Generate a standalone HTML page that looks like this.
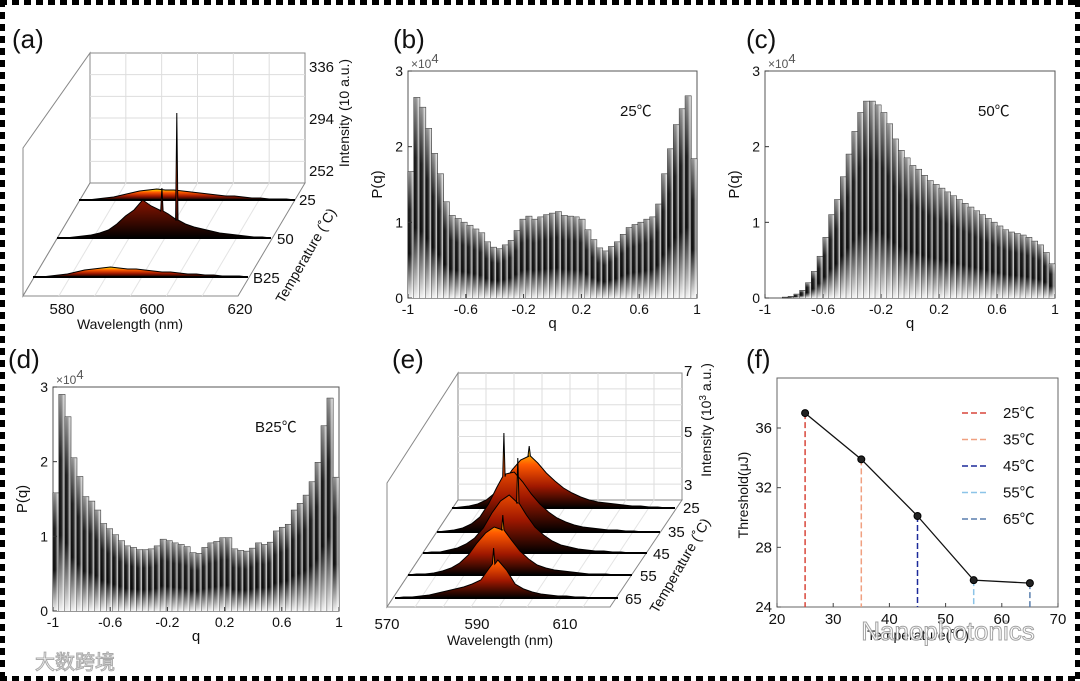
<!DOCTYPE html>
<html><head><meta charset="utf-8">
<style>
html,body{margin:0;padding:0;background:#fff;}
svg{display:block;font-family:"Liberation Sans","Noto Sans CJK SC",sans-serif;}
</style></head>
<body>
<svg id="fig" width="1080" height="681" viewBox="0 0 1080 681">
<defs>
 <linearGradient id="barH" x1="0" y1="0" x2="1" y2="0">
  <stop offset="0" stop-color="#000"/><stop offset="0.45" stop-color="#222"/><stop offset="1" stop-color="#fff"/>
 </linearGradient>
 <linearGradient id="barV" x1="0" y1="0" x2="0" y2="1">
  <stop offset="0" stop-color="#fff" stop-opacity="0.55"/><stop offset="0.3" stop-color="#fff" stop-opacity="0.05"/><stop offset="0.65" stop-color="#fff" stop-opacity="0"/><stop offset="1" stop-color="#fff" stop-opacity="0.95"/>
 </linearGradient>
 <linearGradient id="heat" x1="0" y1="0" x2="0" y2="1">
  <stop offset="0" stop-color="#fff200"/><stop offset="0.3" stop-color="#ff5a00"/><stop offset="0.65" stop-color="#a01800"/><stop offset="1" stop-color="#000"/>
 </linearGradient>
</defs>
<g id="border"></g>
<g id="root"></g>
</svg>
<script>
// ---------- data ----------
const histB = [1.67,2.65,2.52,2.24,1.91,1.64,1.27,1.09,1.05,1.0,0.96,0.91,0.86,0.74,0.67,0.65,0.70,0.76,0.89,1.04,1.08,1.04,1.07,1.10,1.12,1.14,1.09,1.08,1.07,1.04,0.90,0.77,0.66,0.62,0.68,0.74,0.84,0.93,0.97,1.00,1.04,1.07,1.24,1.64,1.97,2.29,2.50,2.67,1.84];
const histC = [0,0,0,0.01,0.02,0.05,0.1,0.2,0.35,0.55,0.8,1.1,1.3,1.6,1.9,2.2,2.45,2.6,2.6,2.55,2.45,2.3,2.1,1.95,1.85,1.75,1.7,1.62,1.55,1.5,1.45,1.4,1.35,1.3,1.25,1.2,1.15,1.1,1.05,1.0,0.95,0.9,0.87,0.85,0.83,0.8,0.75,0.7,0.6,0.45];
const histD = [1.58,2.9,2.6,2.05,1.8,1.53,1.47,1.35,1.17,1.1,1.02,0.94,0.87,0.85,0.82,0.82,0.83,0.87,0.96,0.94,0.91,0.89,0.86,0.78,0.77,0.85,0.91,0.93,0.98,0.98,0.83,0.81,0.8,0.84,0.91,0.89,0.92,1.07,1.12,1.16,1.35,1.44,1.55,1.73,1.99,2.48,2.85,1.79];
const qTicks = [-1,-0.6,-0.2,0.2,0.6,1];
const pTicks = [0,1,2,3];

const specA25 = [0,0,1,2,3,5,7,9,10,11,10,10,9,8,7,6,5,4,4,3,2,2,1,1,1,0];
const specA50 = [0,0,1,2,3,5,8,14,22,28,38,32,28,24,18,14,11,9,7,5,4,3,2,1,1,0];
const specAB25 = [0,0,1,2,3,5,7,8,9,10,9,8,8,7,6,5,5,4,3,3,2,2,1,1,1,0];
const spikeA50Wl = [594.5,598];
const spikeA50H = [50,125];
const tempA = ["25","50","B25"];

const tempE = ["25","35","45","55","65"];
const specE = [
 [0,1,2,4,8,15,25,38,48,52,45,35,27,20,15,11,8,6,5,4,3,2,2,1,1,0,0],
 [0,1,2,4,8,15,28,45,58,60,50,38,28,20,14,10,7,5,4,3,2,2,1,1,0,0,0],
 [0,1,1,3,5,9,15,25,40,52,58,50,38,26,18,12,8,6,4,3,2,2,1,1,0,0,0],
 [0,1,1,2,4,7,12,20,32,42,48,45,35,24,16,10,7,5,4,3,2,1,1,1,0,0,0],
 [0,1,1,2,3,5,7,9,11,14,18,30,38,28,14,9,6,4,3,2,2,1,1,0,0,0,0]
];
const spikeEWl = [588,585.6,592,592,593];
const spikeEH = [62,99,95,60,50];

const thrTemps = [25,35,45,55,65];
const thrVals = [37.0,33.9,30.1,25.8,25.6];
const thrColors = ["#d9473b","#f0a080","#1c2a9a","#8cc4e8","#5a7fae"];
const thrXTicks = [20,30,40,50,60,70];
const thrYTicks = [24,28,32,36];

// ---------- helpers ----------
const NS="http://www.w3.org/2000/svg";
const root=document.getElementById('root');
function el(tag,attrs,parent){const e=document.createElementNS(NS,tag);for(const k in attrs)e.setAttribute(k,attrs[k]);(parent||root).appendChild(e);return e;}
function txt(s,x,y,size,parent,anchor,extra){const t=el('text',Object.assign({x:x,y:y,'font-size':size,'text-anchor':anchor||'middle',fill:'#111'},extra||{}),parent);t.textContent=s;return t;}

// border
const bd=document.getElementById('border');
for(let x=0;x<1080;x+=12){el('rect',{x:x,y:0,width:7,height:5,fill:'#000'},bd);el('rect',{x:x,y:676,width:7,height:5,fill:'#000'},bd);}
for(let y=0;y<681;y+=12){el('rect',{x:0,y:y,width:5,height:7,fill:'#000'},bd);el('rect',{x:1075,y:y,width:5,height:7,fill:'#000'},bd);}

// panel labels
[["(a)",12,48],["(b)",393,48],["(c)",746,48],["(d)",8,368],["(e)",392,368],["(f)",746,368]].forEach(p=>{
 const t=txt(p[0],p[1],p[2],26,root,'start');
 
 
});

// ---------- histogram ----------
function hist(name,vals,x0,x1,y0,y1,label,lx,ly){
 const g=el('g',{});
 
 
 const sx=q=>x0+(q+1)/2*(x1-x0);
 const sy=v=>y0-(v/3)*(y0-y1);
 el('rect',{x:x0,y:y1,width:x1-x0,height:y0-y1,fill:'#fff',stroke:'#555','stroke-width':1},g);
 const n=vals.length, w=2/n;
 vals.forEach((v,i)=>{
  const xa=sx(-1+i*w), xb=sx(-1+(i+1)*w);
  const r=el('rect',{x:xa,y:sy(v),width:xb-xa,height:y0-sy(v),fill:'url(#barH)',stroke:'#222','stroke-width':0.8},g);
  
  
  el('rect',{x:xa,y:sy(v),width:xb-xa,height:y0-sy(v),fill:'url(#barV)'},g);
 });
 qTicks.forEach(q=>{el('line',{x1:sx(q),x2:sx(q),y1:y0,y2:y0-4,stroke:'#333'},g);
  const t=txt(String(q),sx(q),y0+16,14,g);
  
  });
 pTicks.forEach(p=>{el('line',{x1:x0,x2:x0+4,y1:sy(p),y2:sy(p),stroke:'#333'},g);
  const t=txt(String(p),x0-5,sy(p)+5,14,g,'end');
  
  });
 const e=txt('×10',x0+3,y1-3,12,g,'start',{fill:'#555'});
 const s=el('tspan',{dy:-5,'font-size':13},e); s.textContent='4';
 
 
 const xl=txt('q',(x0+x1)/2,y0+30,15,g);
 
 
 const yl=txt('P(q)',0,0,15,g,'middle',{transform:`translate(${x0-26},${(y0+y1)/2}) rotate(-90)`});
 
 
 const an=txt(label,lx,ly,15,g,'start');
 
 
}
hist('histogram-25c',histB,408,697,298,71,'25℃',620,116);
hist('histogram-50c',histC,765,1055,298,71,'50℃',978,116);
hist('histogram-b25c',histD,53,339,611,387,'B25℃',255,432);

// ---------- 3D waterfall ----------
function wall(g,pts){el('polygon',{points:pts.map(p=>p.join(',')).join(' '),fill:'#fff',stroke:'#888','stroke-width':1},g);}
function spectrum(g,vals,xs,xe,yb,wl0,wl1,spW,spH,name){
 const n=vals.length;
 const sx=w=>xs+(w-wl0)/(wl1-wl0)*(xe-xs);
 let pts=[];
 for(let i=0;i<n;i++){const w=wl0+i*(wl1-wl0)/(n-1);pts.push([sx(w),yb-vals[i]]);}
 (spW||[]).forEach((w,k)=>{if(!spH[k])return;const x=sx(w);
  let j=pts.findIndex(p=>p[0]>x); if(j<1)return;
  const a=pts[j-1],b=pts[j]; const base=a[1]+(b[1]-a[1])*(x-a[0])/(b[0]-a[0]);
  pts.splice(j,0,[x-1.2,base],[x,yb-spH[k]],[x+1.2,base]);});
 const d='M'+xs+','+yb+' L'+pts.map(p=>p[0].toFixed(1)+','+p[1].toFixed(1)).join(' L')+' L'+xe+','+yb+' Z';
 const p=el('path',{d:d,fill:'url(#heat)',stroke:'#000','stroke-width':1},g);
 
 
 el('line',{x1:xs,x2:xe,y1:yb,y2:yb,stroke:'#000','stroke-width':2},g);
}

// panel (a)
(function(){
 const g=el('g',{});
 
 
 wall(g,[[23,148],[90,53],[90,183],[23,296]]);
 wall(g,[[90,53],[305,53],[305,183],[90,183]]);
 wall(g,[[90,183],[305,183],[238,296],[23,296]]);
 for(let i=1;i<6;i++){const x=90+i*215/6;el('line',{x1:x,x2:x,y1:53,y2:183,stroke:'#ddd'},g);el('line',{x1:x,x2:x-67,y1:183,y2:296,stroke:'#e4e4e4'},g);}
 for(let i=1;i<6;i++){const y=53+i*130/6;el('line',{x1:90,x2:305,y1:y,y2:y,stroke:'#ddd'},g);}
 const rows=[[specA25,79,295,200,null,null],[specA50,57,271,238,spikeA50Wl,spikeA50H],[specAB25,33,248,277,null,null]];
 rows.forEach((r,i)=>spectrum(g,r[0],r[1],r[2],r[3],570,620,r[4],r[5],'spectrum-'+tempA[i]));
 [[tempA[0],299,205],[tempA[1],277,244],[tempA[2],253,283]].forEach(t=>{const e=txt(t[0],t[1],t[2],15,g,'start');
  
  });
 [["580",62],["600",152],["620",240]].forEach(t=>{const e=txt(t[0],t[1],314,15,g);
  
  });
 [["336",72],["294",124],["252",176]].forEach(t=>{const e=txt(t[0],309,t[1],15,g,'start');
  
  });
 const wl=txt('Wavelength (nm)',130,329,14,g);
 
 
 const it=txt('Intensity (10 a.u.)',0,0,14,g,'middle',{transform:'translate(349,113) rotate(-90)'});
 
 
 const tt=txt('Temperature (˚C)',0,0,14,g,'middle',{transform:'translate(310,258) rotate(-60)'});
 
 
})();

// panel (e)
(function(){
 const g=el('g',{});
 
 
 wall(g,[[387,483],[458,373],[458,500],[387,607]]);
 wall(g,[[458,373],[682,373],[682,500],[458,500]]);
 wall(g,[[458,500],[682,500],[610,607],[387,607]]);
 for(let i=1;i<8;i++){const x=458+i*224/8;el('line',{x1:x,x2:x,y1:373,y2:500,stroke:'#ddd'},g);el('line',{x1:x,x2:x-71,y1:500,y2:607,stroke:'#e4e4e4'},g);}
 for(let i=1;i<8;i++){const y=373+i*127/8;el('line',{x1:458,x2:682,y1:y,y2:y,stroke:'#ddd'},g);}
 const base=[[452,675,508],[437,660,532],[423,647,553],[408,632,575],[395,618,598]];
 base.forEach((b,i)=>spectrum(g,specE[i],b[0],b[1],b[2],570,622,[spikeEWl[i]],[spikeEH[i]],'spectrum-'+tempE[i]));
 [[683,513],[668,537],[653,559],[640,581],[625,604]].forEach((p,i)=>{const e=txt(tempE[i],p[0],p[1],15,g,'start');
  
  });
 [["570",387],["590",477],["610",565]].forEach(t=>{const e=txt(t[0],t[1],629,15,g);
  
  });
 [["7",376],["5",437],["3",490]].forEach(t=>{const e=txt(t[0],684,t[1],15,g,'start');
  
  });
 const wl=txt('Wavelength (nm)',500,645,14,g);
 
 
 const it=el('text',{'font-size':14,'text-anchor':'middle',fill:'#111',transform:'translate(711,420) rotate(-90)'},g);
 it.innerHTML='Intensity (10<tspan dy="-5" font-size="10">3</tspan><tspan dy="5"> a.u.)</tspan>';
 
 
 const tt=txt('Temperature (˚C)',0,0,14,g,'middle',{transform:'translate(684,568) rotate(-60)'});
 
 
})();

// ---------- panel (f) line chart ----------
(function(){
 const g=el('g',{});
 
 
 const x0=777,x1=1058,yb=607,yt=378;
 const sx=t=>x0+(t-20)/50*(x1-x0);
 const sy=v=>607-(v-24)/12*(607-428);
 el('rect',{x:x0,y:yt,width:x1-x0,height:yb-yt,fill:'#fff',stroke:'#666','stroke-width':1},g);
 thrXTicks.forEach(t=>{el('line',{x1:sx(t),x2:sx(t),y1:yb,y2:yb-4,stroke:'#444'},g);
  const e=txt(String(t),sx(t),yb+17,15,g);
  
  });
 thrYTicks.forEach(v=>{el('line',{x1:x0,x2:x0+4,y1:sy(v),y2:sy(v),stroke:'#444'},g);
  const e=txt(String(v),x0-5,sy(v)+5,15,g,'end');
  
  });
 thrTemps.forEach((t,i)=>{const l=el('line',{x1:sx(t),x2:sx(t),y1:sy(thrVals[i]),y2:yb,stroke:thrColors[i],'stroke-width':1.5,'stroke-dasharray':'6,3'},g);
  
  });
 const pl=el('polyline',{points:thrTemps.map((t,i)=>sx(t)+','+sy(thrVals[i])).join(' '),fill:'none',stroke:'#111','stroke-width':1.3},g);
 
 
 thrTemps.forEach((t,i)=>{const c=el('circle',{cx:sx(t),cy:sy(thrVals[i]),r:3.5,fill:'#222',stroke:'#000'},g);
  
  });
 thrTemps.forEach((t,i)=>{const y=413+i*26.5;
  const l=el('line',{x1:962,x2:988,y1:y,y2:y,stroke:thrColors[i],'stroke-width':1.5,'stroke-dasharray':'6,3'},g);
  
  
  const e=txt(t+'℃',1003,y+5,15,g,'start');
  
  });
 const yl=txt('Threshold(μJ)',0,0,14,g,'middle',{transform:'translate(748,495) rotate(-90)'});
 
 
 const xl=txt('Temperature(℃)',918,640,14,g);
 
 
})();

// watermarks
const wm=txt('Nanophotonics',948,640,26,root,'middle',{fill:'#fff',stroke:'#999','stroke-width':1,opacity:0.9});


const wm2=txt('大数跨境',75,669,20,root,'middle',{fill:'#fff',stroke:'#aaa','stroke-width':1});


</script>
</body></html>
